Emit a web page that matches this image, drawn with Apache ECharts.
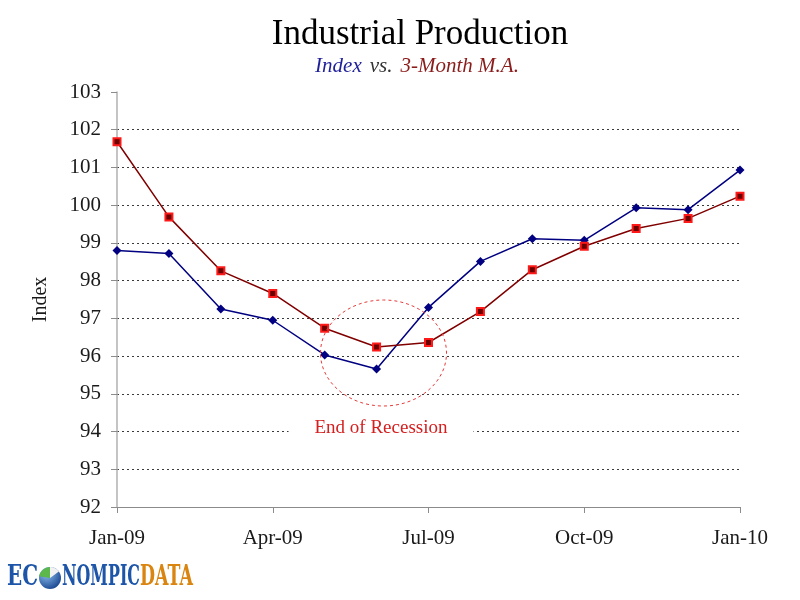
<!DOCTYPE html>
<html>
<head>
<meta charset="utf-8">
<script src="https://cdn.jsdelivr.net/npm/echarts@6/dist/echarts.min.js"></script>
<style>
  html, body { margin: 0; padding: 0; background: #fff; }
  #chart { width: 800px; height: 600px; }
</style>
</head>
<body>
<div id="chart"></div>
<script>
// monthly categories, Jan-09 .. Jan-10
const months = ['Jan-09', 'Feb-09', 'Mar-09', 'Apr-09', 'May-09', 'Jun-09', 'Jul-09',
  'Aug-09', 'Sep-09', 'Oct-09', 'Nov-09', 'Dec-09', 'Jan-10'];
const indexValues = [98.80, 98.72, 97.25, 96.95, 96.03, 95.66, 97.29,
  98.51, 99.11, 99.07, 99.93, 99.88, 100.93];
const maValues = [101.68, 99.69, 98.26, 97.66, 96.74, 96.24, 96.36,
  97.18, 98.29, 98.91, 99.38, 99.65, 100.24];
const yMin = 92, yMax = 103;

const serif = 'Liberation Serif';
const logoFont = 'DejaVu Serif';
const chart = echarts.init(document.getElementById('chart'));

// split lines: skip the ones at 92 (axis line) and 103 (top)
const gridColors = [];
for (let v = yMin; v <= yMax; v++) {
  gridColors.push(v === yMin || v === yMax ? 'rgba(0,0,0,0)' : '#3a3a3a');
}

// squeeze logo words into the width they take in the reference
const ctx = document.createElement('canvas').getContext('2d');
function logoWord(text, x, width, color) {
  ctx.font = 'bold 28px "' + logoFont + '"';
  const w = ctx.measureText(text).width || width;
  return {
    type: 'text', x: x, y: 578, scaleX: width / w,
    style: {
      text: text, fontFamily: logoFont, fontWeight: 'bold', fontSize: 28,
      fill: color, verticalAlign: 'middle', align: 'left'
    }
  };
}

chart.setOption({
  animation: false,
  backgroundColor: '#fff',
  grid: { left: 117, right: 60, top: 92, bottom: 93 },
  xAxis: {
    type: 'category',
    data: months,
    boundaryGap: false,
    axisLine: { lineStyle: { color: '#8c8c8c', width: 1 } },
    axisTick: { show: true, interval: i => i % 3 === 0, length: 6, lineStyle: { color: '#8c8c8c' } },
    axisLabel: {
      interval: i => i % 3 === 0,
      margin: 21,
      fontFamily: serif, fontSize: 21, color: '#1a1a1a'
    },
    splitLine: { show: false }
  },
  yAxis: {
    type: 'value',
    min: yMin, max: yMax, interval: 1,
    name: 'Index',
    nameLocation: 'middle',
    nameGap: 66,
    nameRotate: 90,
    nameTextStyle: { fontFamily: serif, fontSize: 20, color: '#1a1a1a' },
    axisLine: { show: true, lineStyle: { color: '#b0b0b0', width: 1.5 } },
    axisTick: { show: true, length: 6, lineStyle: { color: '#8c8c8c' } },
    axisLabel: { margin: 16, fontFamily: serif, fontSize: 21, color: '#1a1a1a' },
    splitLine: { show: true, lineStyle: { type: [2, 3], color: gridColors, width: 1 } }
  },
  series: [
    {
      name: 'Index',
      type: 'line',
      data: indexValues,
      symbol: 'diamond',
      symbolSize: 9,
      lineStyle: { color: '#000080', width: 1.5 },
      itemStyle: { color: '#000080' },
      z: 3
    },
    {
      name: '3-Month M.A.',
      type: 'line',
      data: maValues,
      symbol: 'rect',
      symbolSize: 7,
      lineStyle: { color: '#800000', width: 1.5 },
      itemStyle: { color: '#6a0000', borderColor: '#ff1a1a', borderWidth: 2 },
      z: 4
    }
  ],
  graphic: [
    {
      type: 'text', x: 420, y: 35,
      style: {
        text: 'Industrial Production', fontFamily: serif, fontSize: 35, fill: '#000',
        align: 'center', verticalAlign: 'middle'
      }
    },
    {
      type: 'text', x: 417, y: 66,
      style: {
        text: '{b|Index}{k|vs.}{r|3-Month M.A.}',
        align: 'center', verticalAlign: 'middle',
        rich: {
          b: { fontFamily: serif, fontStyle: 'italic', fontSize: 21, fill: '#1f1f9a' },
          k: { fontFamily: serif, fontStyle: 'italic', fontSize: 21, fill: '#333', padding: [0, 8] },
          r: { fontFamily: serif, fontStyle: 'italic', fontSize: 21, fill: '#8b1c1c' }
        }
      }
    },
    {
      type: 'ellipse',
      shape: { cx: 383.5, cy: 353, rx: 63, ry: 53 },
      style: { fill: 'none', stroke: '#e83a3a', lineWidth: 1, lineDash: [3, 3] },
      z: 10
    },
    {
      type: 'text', x: 381, y: 428,
      style: {
        text: 'End of Recession', fontFamily: serif, fontSize: 19, fill: '#d42020',
        align: 'center', verticalAlign: 'middle',
        backgroundColor: '#fff', padding: [3, 26]
      },
      z: 10
    },
    // logo
    logoWord('EC', 7, 31, '#1d55a8'),
    {
      type: 'circle',
      shape: { cx: 50, cy: 578, r: 11 },
      style: {
        fill: new echarts.graphic.RadialGradient(0.35, 0.3, 0.8, [
          { offset: 0, color: '#8fc0f0' }, { offset: 1, color: '#123f8a' }
        ])
      }
    },
    {
      type: 'sector',
      shape: { cx: 50, cy: 578, r0: 0, r: 11, startAngle: -Math.PI * 0.95, endAngle: -Math.PI * 0.5 },
      style: { fill: '#5cb84a' }
    },
    {
      type: 'sector',
      shape: { cx: 50, cy: 578, r0: 0, r: 11, startAngle: -Math.PI * 0.5, endAngle: -Math.PI * 0.2 },
      style: { fill: '#f2f2f2' }
    },
    logoWord('NOMPIC', 62, 78, '#1d55a8'),
    logoWord('DATA', 140, 53, '#d98510')
  ]
});
</script>
</body>
</html>
